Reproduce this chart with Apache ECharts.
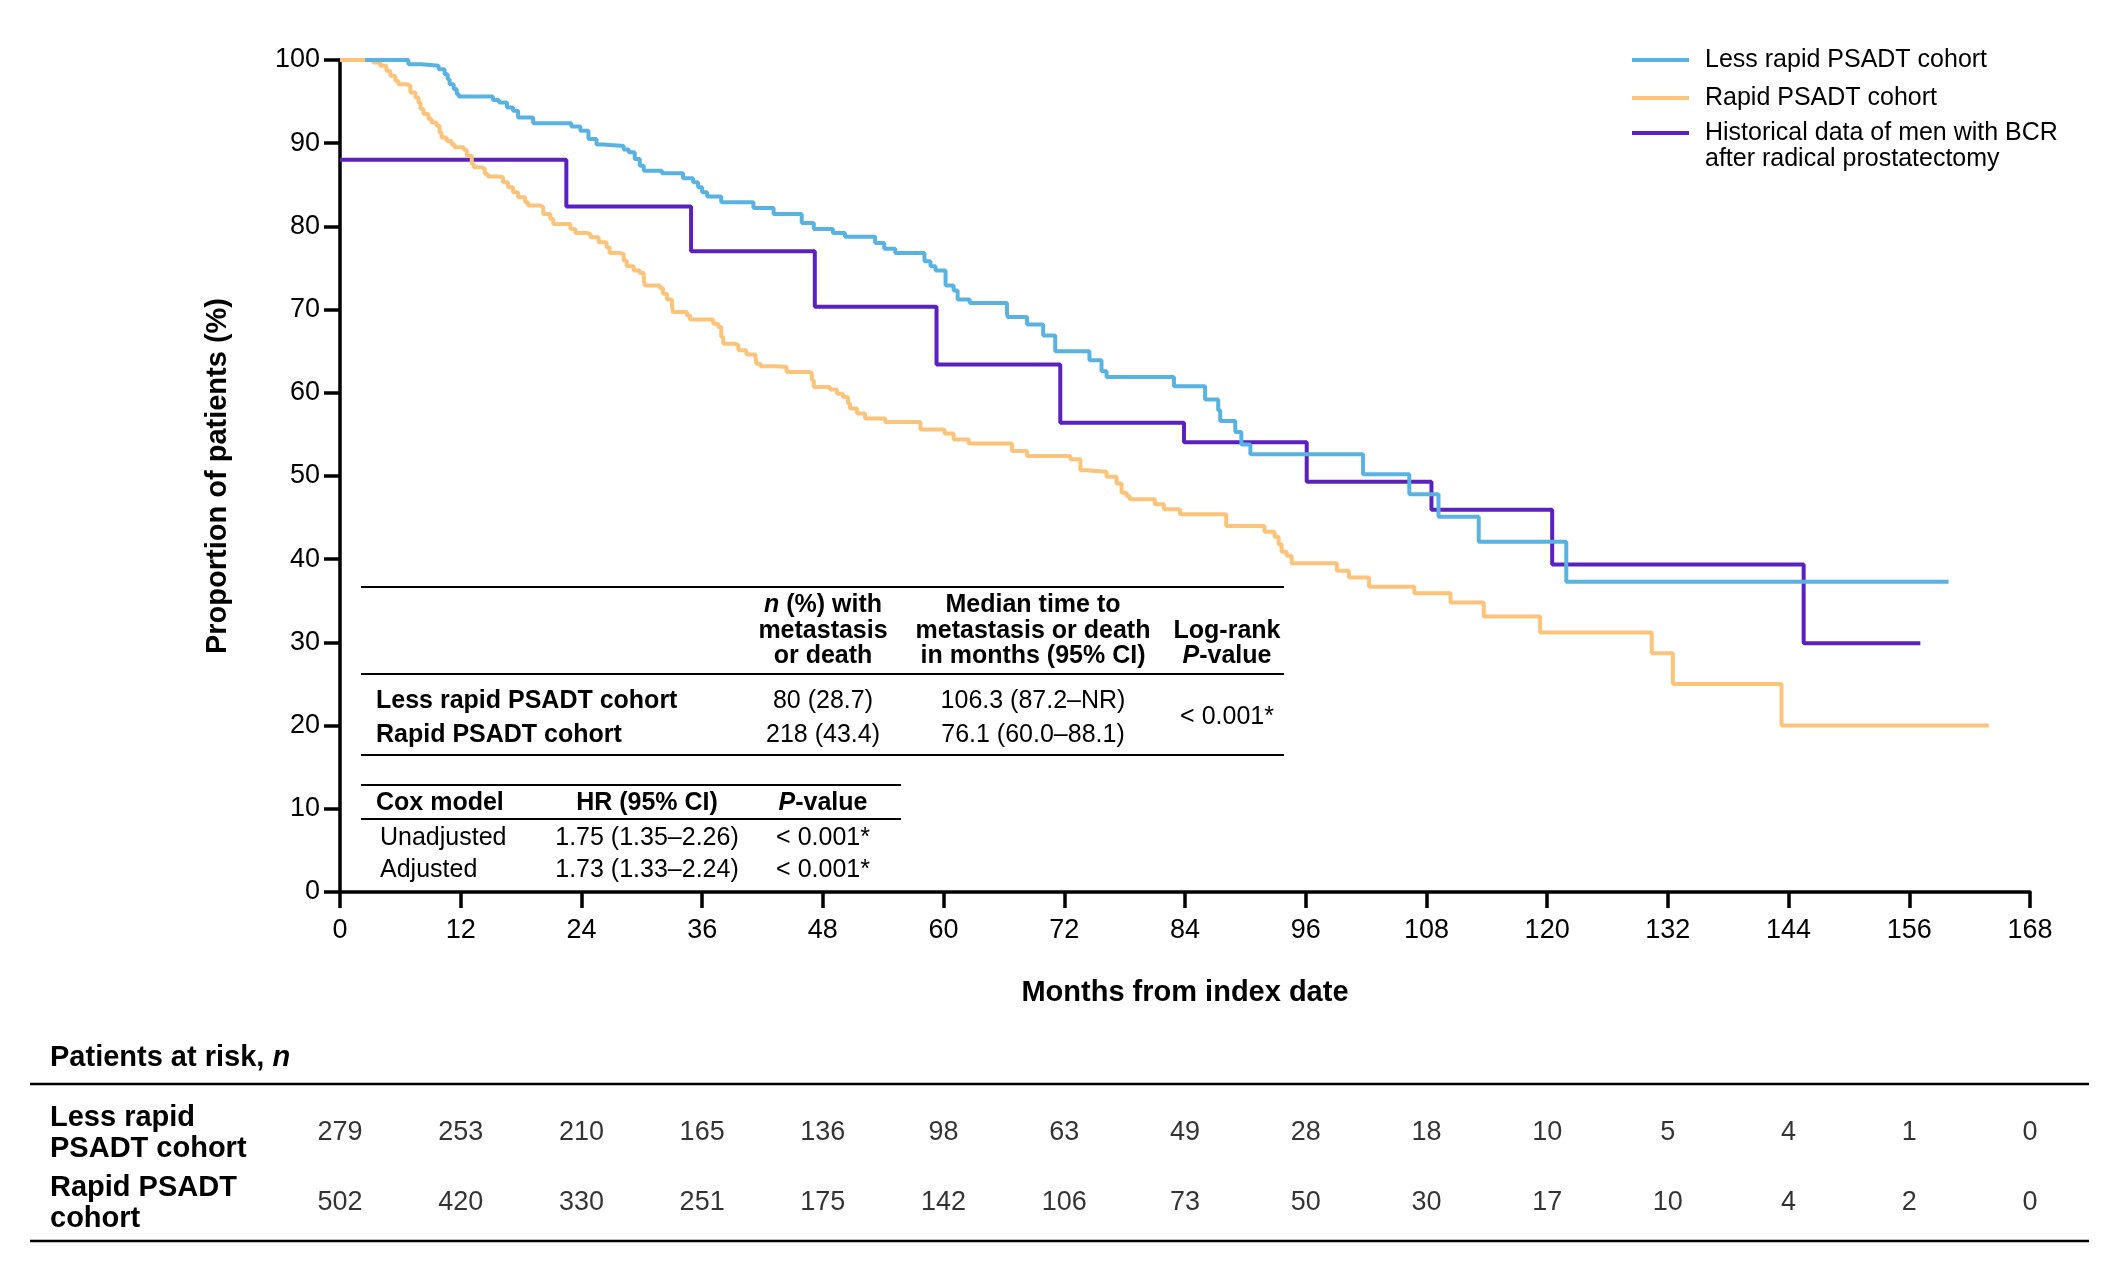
<!DOCTYPE html>
<html>
<head>
<meta charset="utf-8">
<script src="https://cdn.jsdelivr.net/npm/echarts@6/dist/echarts.min.js"></script>
<style>
html,body{margin:0;padding:0;background:#fff;}
#chart{width:2126px;height:1276px;}
</style>
</head>
<body>
<div id="chart"></div>
<script>
// ---------- data ----------
const lessRapidMonths = [2.5, 6.8, 8.1, 9.8, 10.4, 10.7, 10.9, 11.3, 11.6, 11.8, 15.2, 15.8, 16.6, 17.2, 17.7, 19.2, 23.0, 23.9, 24.7, 25.5, 26.2, 28.2, 28.7, 29.3, 29.8, 30.2, 32.0, 34.1, 35.1, 35.6, 36.0, 36.5, 37.9, 41.1, 43.1, 45.9, 47.1, 49.0, 50.2, 53.2, 54.1, 55.2, 58.1, 58.7, 59.2, 60.2, 61.0, 61.4, 62.6, 66.3, 66.4, 68.3, 69.9, 71.1, 74.5, 75.7, 76.2, 82.9, 86.0, 87.3, 87.5, 89.0, 89.6, 90.5, 101.7, 106.3, 109.2, 113.2, 121.9, 159.9];
const lessRapidPct    = [100, 99.5, 99.3, 98.9, 98.3, 97.7, 97.1, 96.5, 95.9, 95.6, 95.2, 94.9, 94.3, 93.9, 93.1, 92.4, 92.0, 91.5, 90.5, 89.85, 89.65, 89.25, 88.9, 88.1, 87.3, 86.7, 86.4, 85.8, 85.3, 84.7, 84.1, 83.6, 82.9, 82.2, 81.5, 80.4, 79.7, 79.2, 78.75, 78.0, 77.3, 76.8, 75.8, 75.2, 74.7, 72.9, 72.3, 71.2, 70.8, 69.5, 69.1, 68.2, 66.9, 65.0, 63.9, 62.6, 61.9, 60.8, 59.2, 57.9, 56.6, 55.3, 53.8, 52.6, 50.2, 47.8, 45.1, 42.1, 37.3, 37.3];

const rapidMonths = [0, 3.3, 4.0, 4.6, 5.0, 5.5, 5.8, 6.6, 7.0, 7.5, 7.8, 8.0, 8.3, 8.8, 9.1, 9.6, 9.9, 10.1, 10.6, 11.1, 11.4, 12.3, 12.6, 13.1, 13.3, 14.1, 14.4, 14.7, 15.7, 16.2, 16.7, 17.2, 17.7, 18.4, 18.7, 19.9, 20.2, 20.9, 21.2, 22.9, 23.4, 24.5, 24.9, 25.7, 26.5, 26.8, 27.8, 28.2, 28.5, 29.2, 29.8, 30.2, 30.3, 31.8, 32.1, 32.5, 33.0, 33.1, 34.5, 34.8, 37.1, 37.6, 37.9, 38.1, 39.3, 39.6, 40.4, 41.3, 41.4, 41.8, 43.4, 44.4, 46.6, 46.9, 47.1, 48.7, 49.4, 50.0, 50.5, 50.7, 51.4, 52.2, 54.2, 57.7, 60.1, 61.0, 62.5, 66.8, 68.3, 72.6, 73.6, 74.2, 76.2, 77.2, 77.7, 78.2, 78.5, 81.0, 81.9, 83.5, 88.1, 91.9, 92.9, 93.3, 93.6, 94.1, 94.6, 99.1, 100.3, 102.3, 106.8, 110.4, 113.7, 119.3, 130.4, 132.5, 143.3, 163.9];
const rapidPct    = [100, 99.7, 99.3, 98.7, 98.1, 97.5, 97.1, 96.9, 96.1, 95.5, 94.9, 94.1, 93.5, 92.9, 92.5, 92.1, 91.3, 90.7, 90.25, 89.85, 89.5, 89.2, 88.5, 87.5, 87.1, 86.9, 86.3, 86.0, 85.9, 85.3, 84.7, 84.1, 83.5, 82.9, 82.5, 82.3, 81.5, 80.9, 80.3, 79.7, 79.2, 79.1, 78.7, 78.1, 77.5, 76.8, 76.7, 75.9, 75.2, 74.7, 74.4, 73.5, 72.9, 72.6, 71.9, 71.2, 70.5, 69.7, 69.3, 68.8, 68.3, 67.9, 66.7, 65.9, 65.7, 65.1, 64.6, 64.3, 63.5, 63.2, 63.1, 62.5, 62.4, 61.5, 60.7, 60.4, 59.9, 59.5, 58.7, 58.1, 57.5, 56.9, 56.5, 55.6, 55.1, 54.4, 53.9, 53.0, 52.4, 52.0, 50.7, 50.5, 49.9, 49.1, 48.0, 47.6, 47.2, 46.6, 46.0, 45.4, 44.0, 43.3, 42.7, 41.8, 40.9, 40.4, 39.5, 38.6, 37.8, 36.7, 35.9, 34.8, 33.1, 31.2, 28.7, 25.0, 20.0, 20.0];

const historicalMonths = [0, 22.5, 34.9, 47.2, 59.3, 71.6, 83.9, 96.1, 108.5, 120.5, 145.5, 157.1];
const historicalPct    = [88, 82.4, 77.0, 70.35, 63.4, 56.4, 54.05, 49.3, 45.95, 39.35, 29.9, 29.9];

const riskMonths    = [0, 12, 24, 36, 48, 60, 72, 84, 96, 108, 120, 132, 144, 156, 168];
const riskLessRapid = [279, 253, 210, 165, 136, 98, 63, 49, 28, 18, 10, 5, 4, 1, 0];
const riskRapid     = [502, 420, 330, 251, 175, 142, 106, 73, 50, 30, 17, 10, 4, 2, 0];
const riskRowLabels = ['Less rapid\nPSADT cohort', 'Rapid PSADT\ncohort'];

const seriesNames = ['Less rapid PSADT cohort', 'Rapid PSADT cohort', 'Historical data of men with BCR', 'after radical prostatectomy'];

// ---------- helpers ----------
const F = '"Liberation Sans", Arial, Helvetica, sans-serif';
const BLUE = '#58B3E2', ORANGE = '#FCC47B', PURPLE = '#5B20C0';
const zip = (xs, ys) => xs.map((x, i) => [x, ys[i]]);

function T(x, y, text, o) {
  o = o || {};
  const size = o.size || 25;
  const weight = o.bold ? 'bold' : 'normal';
  return {
    type: 'text', x: x, y: y, silent: true, z: 100,
    style: {
      text: text, fontSize: size, fontFamily: F, fontWeight: weight, fill: '#000',
      align: o.align || 'left', verticalAlign: 'middle',
      rich: { i: { fontStyle: 'italic', fontWeight: weight, fontSize: size, fontFamily: F, fill: '#000' } }
    }
  };
}
function L(x1, y1, x2, y2, w, c) {
  return { type: 'line', silent: true, z: 100, shape: { x1: x1, y1: y1, x2: x2, y2: y2 },
           style: { stroke: c || '#000', lineWidth: w || 2 } };
}

const graphics = [
  // legend
  L(1632, 60, 1689, 60, 4, BLUE),   T(1705, 60, seriesNames[0]),
  L(1632, 98, 1689, 98, 4, ORANGE), T(1705, 98, seriesNames[1]),
  L(1632, 133, 1689, 133, 4, PURPLE), T(1705, 133, seriesNames[2]), T(1705, 159, seriesNames[3]),
  // table 1
  L(361, 587, 1284, 587),
  T(823, 605, '{i|n} (%) with', {bold: true, align: 'center'}),
  T(823, 631, 'metastasis', {bold: true, align: 'center'}),
  T(823, 656, 'or death', {bold: true, align: 'center'}),
  T(1033, 605, 'Median time to', {bold: true, align: 'center'}),
  T(1033, 631, 'metastasis or death', {bold: true, align: 'center'}),
  T(1033, 656, 'in months (95% CI)', {bold: true, align: 'center'}),
  T(1227, 631, 'Log-rank', {bold: true, align: 'center'}),
  T(1227, 656, '{i|P}-value', {bold: true, align: 'center'}),
  L(361, 674, 1284, 674),
  T(376, 701, 'Less rapid PSADT cohort', {bold: true}),
  T(376, 735, 'Rapid PSADT cohort', {bold: true}),
  T(823, 701, '80 (28.7)', {align: 'center'}),
  T(823, 735, '218 (43.4)', {align: 'center'}),
  T(1033, 701, '106.3 (87.2–NR)', {align: 'center'}),
  T(1033, 735, '76.1 (60.0–88.1)', {align: 'center'}),
  T(1227, 717, '< 0.001*', {align: 'center'}),
  L(361, 755, 1284, 755),
  // table 2
  L(361, 785, 901, 785),
  T(376, 803, 'Cox model', {bold: true}),
  T(647, 803, 'HR (95% CI)', {bold: true, align: 'center'}),
  T(823, 803, '{i|P}-value', {bold: true, align: 'center'}),
  L(361, 819, 901, 819),
  T(380, 838, 'Unadjusted'),
  T(647, 838, '1.75 (1.35–2.26)', {align: 'center'}),
  T(823, 838, '< 0.001*', {align: 'center'}),
  T(380, 870, 'Adjusted'),
  T(647, 870, '1.73 (1.33–2.24)', {align: 'center'}),
  T(823, 870, '< 0.001*', {align: 'center'}),
  // risk table frame
  T(50, 1058, 'Patients at risk, {i|n}', {bold: true, size: 29}),
  L(30, 1084, 2089, 1084, 2.5),
  L(30, 1241, 2089, 1241, 2.5)
];

const riskData = riskMonths.map((m, i) => [m, 0, riskLessRapid[i]])
  .concat(riskMonths.map((m, i) => [m, 1, riskRapid[i]]));

const axisStyle = { lineStyle: { color: '#000', width: 3.5 } };
const tickStyle = { show: true, inside: false, length: 16, lineStyle: { color: '#000', width: 3.5 } };

const option = {
  animation: false,
  backgroundColor: '#fff',
  grid: [
    { left: 340, top: 60, width: 1690, height: 832, containLabel: false },
    { left: 340, top: 1098, width: 1690, height: 140, containLabel: false }
  ],
  xAxis: [
    {
      type: 'value', gridIndex: 0, min: 0, max: 168, interval: 12,
      name: 'Months from index date', nameLocation: 'middle', nameGap: 86,
      nameTextStyle: { fontSize: 29, fontWeight: 'bold', fontFamily: F, color: '#000' },
      axisLine: axisStyle, axisTick: tickStyle,
      axisLabel: { fontSize: 27, fontFamily: F, color: '#000', margin: 25 },
      splitLine: { show: false }
    },
    { type: 'value', gridIndex: 1, min: 0, max: 168, show: false }
  ],
  yAxis: [
    {
      type: 'value', gridIndex: 0, min: 0, max: 100, interval: 10,
      name: 'Proportion of patients (%)', nameLocation: 'middle', nameGap: 108, nameRotate: 90,
      nameTextStyle: { fontSize: 29, fontWeight: 'bold', fontFamily: F, color: '#000' },
      axisLine: axisStyle, axisTick: tickStyle,
      axisLabel: { fontSize: 27, fontFamily: F, color: '#000', margin: 20 },
      splitLine: { show: false }
    },
    {
      type: 'category', gridIndex: 1, data: riskRowLabels, inverse: true,
      axisLine: { show: false }, axisTick: { show: false }, splitLine: { show: false },
      axisLabel: { interval: 0, align: 'left', margin: 290, fontSize: 29, fontWeight: 'bold',
                   fontFamily: F, color: '#000', lineHeight: 31 }
    }
  ],
  series: [
    { type: 'line', name: seriesNames[2], xAxisIndex: 0, yAxisIndex: 0, step: 'end',
      data: zip(historicalMonths, historicalPct), symbol: 'none', showSymbol: false, z: 2,
      lineStyle: { color: PURPLE, width: 4 } },
    { type: 'line', name: seriesNames[1], xAxisIndex: 0, yAxisIndex: 0, step: 'end',
      data: zip(rapidMonths, rapidPct), symbol: 'none', showSymbol: false, z: 3,
      lineStyle: { color: ORANGE, width: 4 } },
    { type: 'line', name: seriesNames[0], xAxisIndex: 0, yAxisIndex: 0, step: 'end',
      data: zip(lessRapidMonths, lessRapidPct), symbol: 'none', showSymbol: false, z: 4,
      lineStyle: { color: BLUE, width: 4 } },
    { type: 'scatter', xAxisIndex: 1, yAxisIndex: 1, data: riskData, symbolSize: 1, silent: true,
      itemStyle: { color: 'rgba(0,0,0,0)' },
      label: { show: true, position: 'inside', formatter: p => String(p.value[2]),
               fontSize: 27, fontFamily: F, color: '#000' } }
  ],
  graphic: graphics
};

const chart = echarts.init(document.getElementById('chart'), null, { renderer: 'canvas' });
chart.setOption(option);
</script>
</body>
</html>
